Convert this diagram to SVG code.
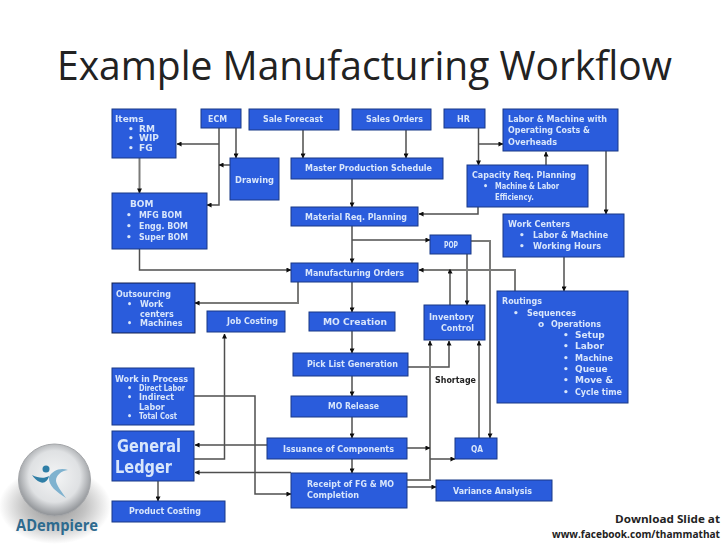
<svg xmlns="http://www.w3.org/2000/svg" width="728" height="546" viewBox="0 0 728 546">
<style>
.b{fill:#2a5bdc;stroke:#1d3a86;stroke-width:1}
.t{font-family:"DejaVu Sans",sans-serif;font-weight:700;font-size:9px;fill:#d8e6fb}
.s{font-size:8px}
.c{fill:none;stroke:#505050;stroke-width:1.5}
.g{fill:none;stroke:#7a7a78;stroke-width:2}
.k{font-family:"Open Sans","Liberation Sans",sans-serif;fill:#222}
</style>
<defs>
<marker id="a" viewBox="0 0 6 6" refX="5.5" refY="3" markerWidth="5" markerHeight="5" markerUnits="userSpaceOnUse" orient="auto"><path d="M0 0L6 3L0 6Z" fill="#111"/></marker>
<radialGradient id="sph" cx="50%" cy="45%" r="55%"><stop offset="0" stop-color="#f4f5f6"/><stop offset=".65" stop-color="#dfe1e3"/><stop offset="1" stop-color="#8d9094"/></radialGradient>
<radialGradient id="shd"><stop offset="0" stop-color="#8f8f8f"/><stop offset=".55" stop-color="#c4c4c4"/><stop offset="1" stop-color="#fff"/></radialGradient>
<filter id="f" x="-2%" y="-2%" width="104%" height="104%"><feGaussianBlur stdDeviation=".35"/></filter>
</defs>
<rect width="728" height="546" fill="#fff"/>
<text id="title" class="k" x="57" y="80" font-size="41" textLength="615" lengthAdjust="spacingAndGlyphs">Example Manufacturing Workflow</text>
<g id="logo">
<ellipse cx="55" cy="506" rx="56" ry="38" fill="url(#shd)"/>
<circle cx="54.500" cy="480" r="36" fill="url(#sph)" stroke="#a4a6a9"/>
<circle cx="46" cy="469" r="3.500" fill="#2f7ea6"/>
<path d="M32 475C38 478 44 479 49 476C48 481 44 484 40 482C37 481 34 478 32 475Z" fill="#2f7ea6"/>
<path d="M49 477C52 471 60 467 68 470C61 471 56 475 56 481C57 486 61 491 66 498C57 492 48 486 49 477Z" fill="#7fb2cf"/>
<text x="16" y="531" font-family="'Open Sans','Liberation Sans',sans-serif" font-weight="700" font-size="16" fill="#2d6a8e" textLength="82" lengthAdjust="spacingAndGlyphs">ADempiere</text>
</g>
<g filter="url(#f)">
<g id="connectors">
<path class="c" d="M219 128V205H207" marker-end="url(#a)"/>
<path class="c" d="M219 144H177" marker-end="url(#a)"/>
<path class="c" d="M236 128V158" marker-end="url(#a)"/>
<path class="c" d="M230 165H219" marker-end="url(#a)"/>
<path class="g" d="M139.500 158V193" marker-end="url(#a)"/>
<path class="g" d="M303 130V158" marker-end="url(#a)"/>
<path class="c" d="M406 130V158" marker-end="url(#a)"/>
<path class="c" d="M352 179V207" marker-end="url(#a)"/>
<path class="c" d="M352 226V263" marker-end="url(#a)"/>
<path class="c" d="M352 240H430" marker-end="url(#a)"/>
<path class="c" d="M139.500 249V270H291" marker-end="url(#a)"/>
<path class="c" d="M478.500 128V165" marker-end="url(#a)"/>
<path class="c" d="M478.500 144H503" marker-end="url(#a)"/>
<path class="g" d="M546 165V152" marker-end="url(#a)"/>
<path class="c" d="M478 207V214H419" marker-end="url(#a)"/>
<path class="c" d="M606 144V214" marker-end="url(#a)"/>
<path class="c" d="M564 257V291" marker-end="url(#a)"/>
<path class="c" d="M467 254V305" marker-end="url(#a)"/>
<path class="g" d="M471 241H490V438" marker-end="url(#a)"/>
<path class="g" d="M515 291V270H419" marker-end="url(#a)"/>
<path class="g" d="M450 305V269" marker-end="url(#a)"/>
<path class="c" d="M352 282V312" marker-end="url(#a)"/>
<path class="g" d="M298 282V303H195" marker-end="url(#a)"/>
<path class="c" d="M352 331V353" marker-end="url(#a)"/>
<path class="c" d="M352 376V396" marker-end="url(#a)"/>
<path class="c" d="M352 417V438" marker-end="url(#a)"/>
<path class="c" d="M352 459V473" marker-end="url(#a)"/>
<path class="c" d="M408 367H449V341" marker-end="url(#a)"/>
<path class="g" d="M407 480H430V341" marker-end="url(#a)"/>
<path class="c" d="M407 448H430" marker-end="url(#a)"/>
<path class="c" d="M430 459H455" marker-end="url(#a)"/>
<path class="g" d="M479 438V341" marker-end="url(#a)"/>
<path class="c" d="M407 487H436" marker-end="url(#a)"/>
<path class="c" d="M267 445H195" marker-end="url(#a)"/>
<path class="c" d="M291 472.500H195" marker-end="url(#a)"/>
<path class="c" d="M194 396H255V494H291" marker-end="url(#a)"/>
<path class="c" d="M194 459H224.500V334" marker-end="url(#a)"/>
<path class="c" d="M158 481V501" marker-end="url(#a)"/>
</g>
<g id="items"><rect class="b" x="112" y="109" width="64" height="49"/><text class="t" x="115" y="121.500">Items</text><text class="t" x="128" y="131.500">•</text><text class="t" x="139" y="131.500">RM</text><text class="t" x="128" y="141">•</text><text class="t" x="139" y="141">WIP</text><text class="t" x="128" y="151">•</text><text class="t" x="139" y="151">FG</text></g>
<g id="ecm"><rect class="b" x="201" y="109" width="40" height="19"/><text class="t" x="208" y="122" textLength="19" lengthAdjust="spacingAndGlyphs">ECM</text></g>
<g id="sale-forecast"><rect class="b" x="249" y="109" width="90" height="21"/><text class="t" x="263" y="122" textLength="60" lengthAdjust="spacingAndGlyphs">Sale Forecast</text></g>
<g id="sales-orders"><rect class="b" x="352" y="109" width="79" height="21"/><text class="t" x="366" y="122" textLength="57" lengthAdjust="spacingAndGlyphs">Sales Orders</text></g>
<g id="hr"><rect class="b" x="444" y="109" width="41" height="19"/><text class="t" x="457" y="122" textLength="13" lengthAdjust="spacingAndGlyphs">HR</text></g>
<g id="labor-machine"><rect class="b" x="503" y="109" width="115" height="42"/><text class="t" x="508" y="122" textLength="99" lengthAdjust="spacingAndGlyphs">Labor &amp; Machine with</text><text class="t" x="508" y="133" textLength="82" lengthAdjust="spacingAndGlyphs">Operating Costs &amp;</text><text class="t" x="508" y="145" textLength="49" lengthAdjust="spacingAndGlyphs">Overheads</text></g>
<g id="drawing"><rect class="b" x="230" y="158" width="49" height="42"/><text class="t" x="235" y="183" textLength="39" lengthAdjust="spacingAndGlyphs">Drawing</text></g>
<g id="master-schedule"><rect class="b" x="291" y="158" width="152" height="21"/><text class="t" x="305" y="171" textLength="127" lengthAdjust="spacingAndGlyphs">Master Production Schedule</text></g>
<g id="capacity"><rect class="b" x="467" y="165" width="121" height="42"/><text class="t" x="472" y="178" textLength="104" lengthAdjust="spacingAndGlyphs">Capacity Req. Planning</text><text class="t s" x="483" y="189">•</text><text class="t s" x="495" y="189" textLength="64" lengthAdjust="spacingAndGlyphs">Machine &amp; Labor</text><text class="t s" x="495" y="200" textLength="39" lengthAdjust="spacingAndGlyphs">Efficiency.</text></g>
<g id="material"><rect class="b" x="291" y="207" width="127" height="19"/><text class="t" x="305" y="220" textLength="102" lengthAdjust="spacingAndGlyphs">Material Req. Planning</text></g>
<g id="bom"><rect class="b" x="112" y="193" width="95" height="56"/><text class="t" x="130" y="206.500">BOM</text><text class="t" x="126" y="218">•</text><text class="t" x="139" y="218" textLength="43" lengthAdjust="spacingAndGlyphs">MFG BOM</text><text class="t" x="126" y="229">•</text><text class="t" x="139" y="229" textLength="49" lengthAdjust="spacingAndGlyphs">Engg. BOM</text><text class="t" x="126" y="240">•</text><text class="t" x="139" y="240" textLength="49" lengthAdjust="spacingAndGlyphs">Super BOM</text></g>
<g id="work-centers"><rect class="b" x="503" y="214" width="121" height="43"/><text class="t" x="508" y="227" textLength="62" lengthAdjust="spacingAndGlyphs">Work Centers</text><text class="t" x="519" y="238">•</text><text class="t" x="533" y="238" textLength="75" lengthAdjust="spacingAndGlyphs">Labor &amp; Machine</text><text class="t" x="519" y="249">•</text><text class="t" x="533" y="249" textLength="68" lengthAdjust="spacingAndGlyphs">Working Hours</text></g>
<g id="pop"><rect class="b" x="430" y="235" width="41" height="19"/><text class="t" x="444" y="248" textLength="14" lengthAdjust="spacingAndGlyphs">POP</text></g>
<g id="mfg-orders"><rect class="b" x="291" y="263" width="127" height="19"/><text class="t" x="305" y="276" textLength="99" lengthAdjust="spacingAndGlyphs">Manufacturing Orders</text></g>
<g id="outsourcing"><rect class="b" x="112" y="283" width="83" height="50" stroke-width="1.500" style="stroke:#10204e"/><text class="t" x="116" y="297" textLength="55" lengthAdjust="spacingAndGlyphs">Outsourcing</text><text class="t s" x="127" y="307">•</text><text class="t s" x="140" y="307">Work</text><text class="t s" x="140" y="317">centers</text><text class="t s" x="127" y="326">•</text><text class="t s" x="140" y="326">Machines</text></g>
<g id="job-costing"><rect class="b" x="207" y="311" width="78" height="21"/><text class="t" x="227" y="324" textLength="51" lengthAdjust="spacingAndGlyphs">Job Costing</text></g>
<g id="mo-creation"><rect class="b" x="309" y="312" width="86" height="19"/><text class="t" x="323" y="325" textLength="64" lengthAdjust="spacingAndGlyphs">MO Creation</text></g>
<g id="pick-list"><rect class="b" x="293" y="353" width="115" height="23"/><text class="t" x="307" y="367" textLength="91" lengthAdjust="spacingAndGlyphs">Pick List Generation</text></g>
<g id="mo-release"><rect class="b" x="291" y="396" width="116" height="21"/><text class="t" x="328" y="409" textLength="51" lengthAdjust="spacingAndGlyphs">MO Release</text></g>
<g id="inventory"><rect class="b" x="424" y="305" width="61" height="35"/><text class="t" x="429" y="320" textLength="45" lengthAdjust="spacingAndGlyphs">Inventory</text><text class="t" x="441" y="331" textLength="33" lengthAdjust="spacingAndGlyphs">Control</text></g>
<g id="routings"><rect class="b" x="497" y="291" width="131" height="112"/><text class="t" x="502" y="304" textLength="40" lengthAdjust="spacingAndGlyphs">Routings</text><text class="t" x="513" y="316">•</text><text class="t" x="527" y="316" textLength="49" lengthAdjust="spacingAndGlyphs">Sequences</text><text class="t" x="538" y="327">o</text><text class="t" x="551" y="327" textLength="50" lengthAdjust="spacingAndGlyphs">Operations</text><text class="t" x="563" y="338">•</text><text class="t" x="575" y="338">Setup</text><text class="t" x="563" y="349">•</text><text class="t" x="575" y="349">Labor</text><text class="t" x="563" y="361">•</text><text class="t" x="575" y="361" textLength="38" lengthAdjust="spacingAndGlyphs">Machine</text><text class="t" x="563" y="372">•</text><text class="t" x="575" y="372">Queue</text><text class="t" x="563" y="383">•</text><text class="t" x="575" y="383">Move &amp;</text><text class="t" x="563" y="395">•</text><text class="t" x="575" y="395" textLength="47" lengthAdjust="spacingAndGlyphs">Cycle time</text></g>
<text id="shortage" class="t" x="435" y="383" style="fill:#222" textLength="41" lengthAdjust="spacingAndGlyphs">Shortage</text>
<g id="wip"><rect class="b" x="112" y="368" width="82" height="57"/><text class="t" x="115" y="382" textLength="73" lengthAdjust="spacingAndGlyphs">Work in Process</text><text class="t s" x="127" y="391">•</text><text class="t s" x="139" y="391" textLength="46" lengthAdjust="spacingAndGlyphs">Direct Labor</text><text class="t s" x="127" y="400">•</text><text class="t s" x="139" y="400">Indirect</text><text class="t s" x="139" y="410">Labor</text><text class="t s" x="127" y="419">•</text><text class="t s" x="139" y="419" textLength="38" lengthAdjust="spacingAndGlyphs">Total Cost</text></g>
<g id="general-ledger"><rect class="b" x="112" y="431" width="82" height="50"/><text class="t" x="117" y="452" style="font-size:17px" textLength="64" lengthAdjust="spacingAndGlyphs">General</text><text class="t" x="115" y="473" style="font-size:17px" textLength="57" lengthAdjust="spacingAndGlyphs">Ledger</text></g>
<g id="product-costing"><rect class="b" x="112" y="501" width="113" height="21"/><text class="t" x="129" y="514" textLength="72" lengthAdjust="spacingAndGlyphs">Product Costing</text></g>
<g id="issuance"><rect class="b" x="267" y="438" width="140" height="21"/><text class="t" x="283" y="452" textLength="111" lengthAdjust="spacingAndGlyphs">Issuance of Components</text></g>
<g id="receipt"><rect class="b" x="291" y="473" width="116" height="35"/><text class="t" x="307" y="487" textLength="87" lengthAdjust="spacingAndGlyphs">Receipt of FG &amp; MO</text><text class="t" x="307" y="498" textLength="52" lengthAdjust="spacingAndGlyphs">Completion</text></g>
<g id="qa"><rect class="b" x="455" y="438" width="42" height="21"/><text class="t" x="471" y="452" textLength="12" lengthAdjust="spacingAndGlyphs">QA</text></g>
<g id="variance"><rect class="b" x="436" y="480" width="116" height="21"/><text class="t" x="453" y="494" textLength="79" lengthAdjust="spacingAndGlyphs">Variance Analysis</text></g>
</g>
<text class="k" x="615" y="523" font-size="11" font-weight="700" textLength="105" lengthAdjust="spacingAndGlyphs">Download Slide at</text>
<text class="k" x="552" y="538" font-size="10" font-weight="700" textLength="168" lengthAdjust="spacingAndGlyphs">www.facebook.com/thammathat</text>
</svg>
